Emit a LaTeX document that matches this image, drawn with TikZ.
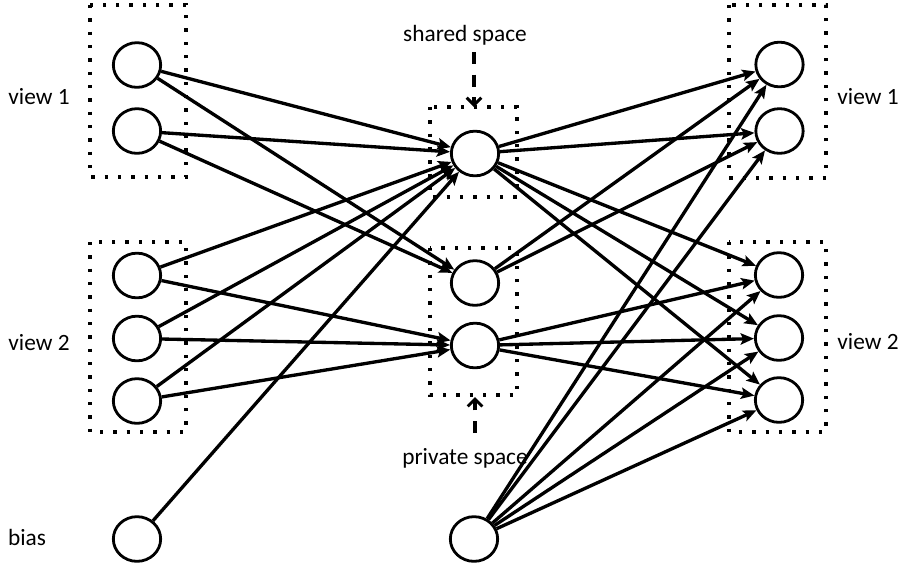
\documentclass[tikz,border=0pt]{standalone}
\usepackage{fontspec}
\setmainfont{Carlito}
\usetikzlibrary{shapes.geometric,arrows.meta}

\tikzset{
  unit/.style={ellipse, draw, line width=2.1pt, minimum width=35.5pt, minimum height=33.5pt, inner sep=0pt},
  edge/.style={line width=2.5pt, -{Stealth[length=10pt,width=8.5pt,inset=2pt]}},
  groupbox/.style={line width=2.4pt, dash pattern=on 2.4pt off 7.6pt},
  pointer/.style={line width=2.6pt, dash pattern=on 9pt off 8pt, -{Straight Barb[length=5.5pt,width=11pt,line width=2.2pt]}},
  lbl/.style={font=\fontsize{17.5pt}{20pt}\selectfont, inner sep=0pt}
}

\begin{document}
\begin{tikzpicture}[x=0.75pt, y=-0.75pt]
  \useasboundingbox (0,0) rectangle (908,569);

  % group boxes
  \draw[groupbox] (90,5) rectangle (186,177);
  \draw[groupbox] (90,242) rectangle (186,432);
  \draw[groupbox] (430,107) rectangle (517,197);
  \draw[groupbox] (430,248) rectangle (517,395);
  \draw[groupbox] (729,5) rectangle (826,178);
  \draw[groupbox] (729,242) rectangle (826,432);

  % input units
  \node[unit] (a1) at (137,65) {};
  \node[unit] (a2) at (137,131) {};
  \node[unit] (b1) at (137,275.5) {};
  \node[unit] (b2) at (137,338.5) {};
  \node[unit] (b3) at (137,401) {};
  \node[unit] (bin) at (137,539) {};

  % hidden units
  \node[unit] (s) at (475,153.5) {};
  \node[unit] (p1) at (475,283) {};
  \node[unit] (p2) at (475,345.5) {};
  \node[unit] (bh) at (474,539) {};

  % output units
  \node[unit] (c1) at (779.5,64.5) {};
  \node[unit] (c2) at (779.5,131) {};
  \node[unit] (d1) at (779,275) {};
  \node[unit] (d2) at (779,338) {};
  \node[unit] (d3) at (779,400) {};

  % labels
  \node[lbl] (lv1) at (39,97) {view 1};
  \node[lbl] (lv2) at (39,343) {view 2};
  \node[lbl] (lb) at (27,537) {bias};
  \node[lbl] (rv1) at (868,97) {view 1};
  \node[lbl] (rv2) at (868,342) {view 2};
  \node[lbl] (ls) at (465,35) {shared space};
  \node[lbl] (lp) at (465,458) {private space};

  \coordinate (sp0) at (474,52);
  \coordinate (sp1) at (474,107);
  \coordinate (pp0) at (475,433);
  \coordinate (pp1) at (475,397);
  \draw[pointer] (sp0) -- (sp1);
  \draw[pointer] (pp0) -- (pp1);

  % encoder connections
  \foreach \u in {a1,a2,b1,b2,b3,bin} \draw[edge] (\u) -- (s);
  \foreach \u in {a1,a2} \draw[edge] (\u) -- (p1);
  \foreach \u in {b1,b2,b3} \draw[edge] (\u) -- (p2);

  % decoder connections
  \foreach \v in {c1,c2,d1,d2,d3} \draw[edge] (s) -- (\v);
  \foreach \v in {c1,c2} \draw[edge] (p1) -- (\v);
  \foreach \v in {d1,d2,d3} \draw[edge] (p2) -- (\v);
  \foreach \v in {c1,c2,d1,d2,d3} \draw[edge] (bh) -- (\v);
\end{tikzpicture}
\end{document}
